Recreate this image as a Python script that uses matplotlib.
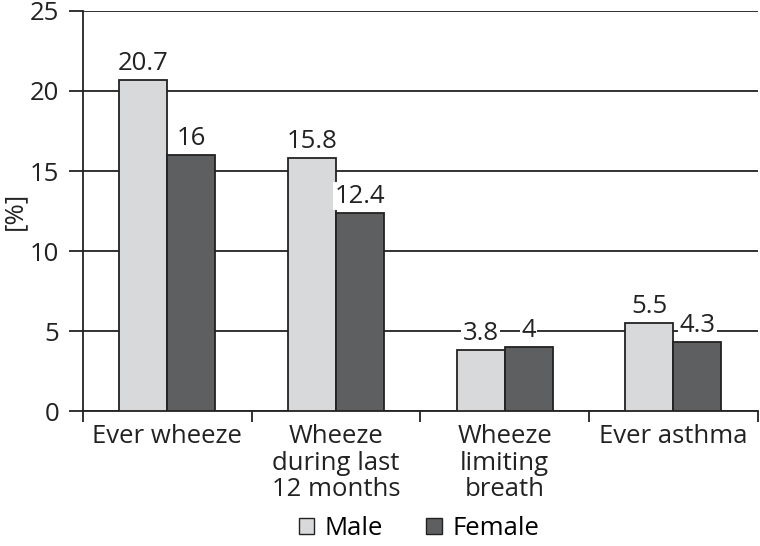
import matplotlib
matplotlib.use("Agg")
import matplotlib.pyplot as plt
import numpy as np
from matplotlib.patches import Patch

categories = ["Ever wheeze", "Wheeze\nduring last\n12 months", "Wheeze\nlimiting\nbreath", "Ever asthma"]
male = [20.7, 15.8, 3.8, 5.5]
female = [16, 12.4, 4, 4.3]
male_labels = ["20.7", "15.8", "3.8", "5.5"]
female_labels = ["16", "12.4", "4", "4.3"]

plt.rcParams['font.family'] = ['Open Sans', 'DejaVu Sans']
FS = 18.5
plt.rcParams['font.size'] = FS

fig = plt.figure(figsize=(7.6, 5.46), dpi=100)
ax = fig.add_axes([0.109, 0.247, 0.888, 0.733])

x = np.arange(len(categories))
w = 0.285
mc = "#d8d9db"
fc = "#5e5f61"
ink = "#222222"
ax.bar(x - w/2, male, w, color=mc, edgecolor=ink, linewidth=1.3, zorder=3)
ax.bar(x + w/2, female, w, color=fc, edgecolor=ink, linewidth=1.3, zorder=3)

for xi, v, t in zip(x - w/2, male, male_labels):
    ax.text(xi, v + 0.25, t, ha="center", va="bottom", fontsize=FS, color=ink, zorder=4,
            bbox=dict(facecolor="white", edgecolor="none", pad=1.0))
for xi, v, t in zip(x + w/2, female, female_labels):
    ax.text(xi, v + 0.25, t, ha="center", va="bottom", fontsize=FS, color=ink, zorder=4,
            bbox=dict(facecolor="white", edgecolor="none", pad=1.0))

ax.set_xlim(-0.5, len(categories) - 0.5)
ax.set_ylim(0, 25)
ax.set_yticks([0, 5, 10, 15, 20, 25])
ax.yaxis.grid(True, color=ink, linewidth=1.3, zorder=0)
ax.set_axisbelow(True)
ax.tick_params(axis="y", length=10, width=1.3, color=ink, labelcolor=ink, pad=7)
ax.set_xticks(x)
ax.set_xticklabels(categories, linespacing=1.1, color=ink)
ax.tick_params(axis="x", length=0, pad=9)
ax.set_xticks(np.arange(-0.5, len(categories)), minor=True)
ax.tick_params(axis="x", which="minor", length=8, width=1.3, color=ink, direction="out")

for s in ["top", "right"]:
    ax.spines[s].set_visible(False)
for s in ["left", "bottom"]:
    ax.spines[s].set_linewidth(1.3)
    ax.spines[s].set_color(ink)

ax.set_ylabel("[%]", color=ink)
ax.yaxis.set_label_coords(-0.083, 0.5)

handles = [Patch(facecolor=mc, edgecolor=ink, label="Male"),
           Patch(facecolor=fc, edgecolor=ink, label="Female")]
fig.legend(handles=handles, loc="lower center", bbox_to_anchor=(0.551, -0.033), ncol=2, frameon=False,
           handlelength=0.6, handleheight=0.6, handletextpad=0.4, columnspacing=1.7, fontsize=FS)

fig.savefig("out.png", dpi=100)
